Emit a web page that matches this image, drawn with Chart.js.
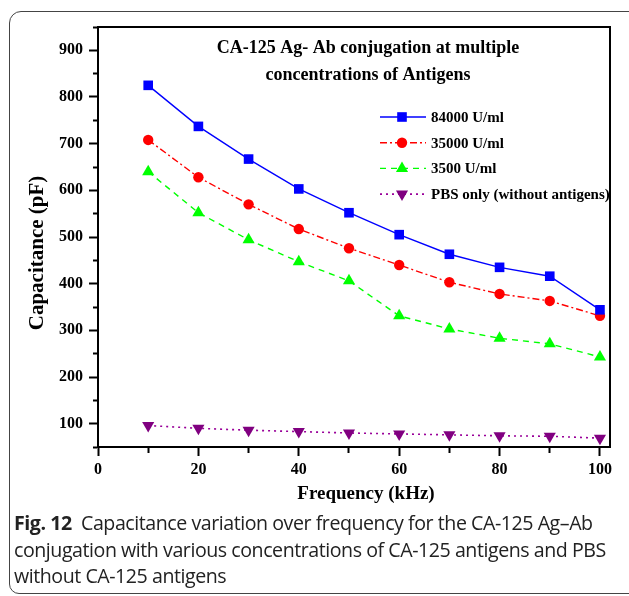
<!DOCTYPE html>
<html>
<head>
<meta charset="utf-8">
<script src="https://cdn.jsdelivr.net/npm/chart.js@4.4.1/dist/chart.umd.min.js"></script>
<style>
  html, body { margin: 0; padding: 0; background: #fff; overflow: hidden; }
  #page { position: relative; width: 629px; height: 596px; }
  #frame {
    position: absolute; left: 9px; top: 11px; width: 660px; height: 583px;
    border: 1.3px solid #444; border-radius: 12px 0 0 10px; box-sizing: border-box;
  }
  #chart { position: absolute; left: 0; top: 0; }
  #caption {
    position: absolute; left: 14px; top: 510px; width: 620px; white-space: nowrap;
    font-family: "Open Sans", "Noto Sans", sans-serif; font-size: 19.6px;
    line-height: 26.5px; color: #222; letter-spacing: -0.45px;
  }
  #caption b { font-weight: 700; }
</style>
</head>
<body>
<div id="page">
  <div id="frame"></div>
  <canvas id="chart" width="629" height="510"></canvas>
  <div id="caption"><b>Fig. 12</b>&nbsp; Capacitance variation over frequency for the CA-125 Ag–Ab<br>conjugation with various concentrations of CA-125 antigens and PBS<br>without CA-125 antigens</div>
</div>
<script>
// --- DADOS ---
const freq = [10, 20, 30, 40, 50, 60, 70, 80, 90, 100];
const cap84000 = [825, 737, 667, 603, 552, 505, 463, 435, 416, 344];
const cap35000 = [708, 628, 570, 517, 476, 440, 403, 378, 363, 331];
const cap3500 = [640, 552, 494, 447, 406, 331, 303, 283, 271, 243];
const capPBS = [96, 90, 86, 83, 80, 78, 76, 74, 73, 69];

const seriesLabels = ['84000 U/ml', '35000 U/ml', '3500 U/ml', 'PBS only (without antigens)'];
const titleLines = ['CA-125 Ag- Ab conjugation at multiple', 'concentrations of Antigens'];
const xTitle = 'Frequency (kHz)';
const yTitle = 'Capacitance (pF)';

const SERIF = '"Liberation Serif", "Times New Roman", serif';

function toPoints(ys) {
    return freq.map((x, i) => ({ x: x, y: ys[i] }));
}

const datasets = [
    { label: seriesLabels[0], data: toPoints(cap84000), borderColor: '#0000ff', backgroundColor: '#0000ff',
      borderWidth: 1.4, borderDash: [], pointStyle: 'rect', pointRadius: 6.8, pointRotation: 0 },
    { label: seriesLabels[1], data: toPoints(cap35000), borderColor: '#ff0000', backgroundColor: '#ff0000',
      borderWidth: 1.4, borderDash: [7, 3, 2, 3], pointStyle: 'circle', pointRadius: 5.2, pointRotation: 0 },
    { label: seriesLabels[2], data: toPoints(cap3500), borderColor: '#00ff00', backgroundColor: '#00ff00',
      borderWidth: 1.4, borderDash: [6, 5], pointStyle: 'triangle', pointRadius: 7, pointRotation: 0 },
    { label: seriesLabels[3], data: toPoints(capPBS), borderColor: '#990099', backgroundColor: '#800080',
      borderWidth: 1.6, borderDash: [2, 4], pointStyle: 'triangle', pointRadius: 7, pointRotation: 180 }
];
datasets.forEach(d => { d.pointBorderWidth = 0; d.fill = false; d.tension = 0; d.pointHoverRadius = d.pointRadius; });

// moldura + título + legenda + títulos dos eixos
const decor = {
    id: 'decor',
    beforeDatasetsDraw(chart) {
        const { ctx, chartArea: a } = chart;
        ctx.save();
        ctx.strokeStyle = '#000';
        ctx.lineWidth = 2;
        ctx.strokeRect(a.left, a.top, a.right - a.left, a.bottom - a.top);
        ctx.restore();
    },
    afterDraw(chart) {
        const ctx = chart.ctx;
        ctx.save();
        ctx.fillStyle = '#000';
        ctx.textAlign = 'center';
        ctx.textBaseline = 'middle';
        ctx.font = 'bold 18px ' + SERIF;
        titleLines.forEach((t, i) => ctx.fillText(t, 368, 48 + i * 27));

        // títulos dos eixos
        ctx.font = 'bold 19px ' + SERIF;
        ctx.fillText(xTitle, 366, 494);
        ctx.save();
        ctx.translate(38, 253);
        ctx.rotate(-Math.PI / 2);
        ctx.font = 'bold 21px ' + SERIF;
        ctx.fillText(yTitle, 0, 0);
        ctx.restore();

        // legenda
        ctx.font = 'bold 15px ' + SERIF;
        ctx.textAlign = 'left';
        chart.data.datasets.forEach((d, i) => {
            const y = 117 + i * 25.7;
            ctx.save();
            ctx.strokeStyle = d.borderColor;
            ctx.lineWidth = d.borderWidth;
            ctx.setLineDash(d.borderDash);
            ctx.beginPath();
            ctx.moveTo(380, y);
            ctx.lineTo(426, y);
            ctx.stroke();
            ctx.setLineDash([]);
            ctx.fillStyle = d.backgroundColor;
            ctx.strokeStyle = d.backgroundColor;
            Chart.helpers.drawPoint(ctx, { pointStyle: d.pointStyle, rotation: d.pointRotation, radius: d.pointRadius, borderWidth: 0 }, 402, y);
            ctx.restore();
            ctx.fillText(d.label, 431, y + 1);
        });
        ctx.restore();
    }
};

new Chart(document.getElementById('chart'), {
    type: 'line',
    data: { datasets: datasets },
    plugins: [decor],
    options: {
        responsive: false,
        animation: false,
        events: [],
        layout: { autoPadding: false, padding: { top: 27, right: 19, left: 0, bottom: 0 } },
        plugins: { legend: { display: false }, title: { display: false }, tooltip: { enabled: false } },
        scales: {
            x: {
                type: 'linear', min: 0, max: 102,
                afterFit: s => { s.height = 63; },
                afterBuildTicks: s => { s.ticks = freq.map(v => ({ value: v })); s.ticks.unshift({ value: 0 }); },
                grid: {
                    drawOnChartArea: false, tickLength: 9, tickWidth: 2, tickColor: '#000',
                    tickBorderDash: c => (c.tick && c.tick.value % 20 === 0) ? [] : [5, 20]
                },
                border: { display: true, color: '#000', width: 2 },
                ticks: {
                    color: '#000', padding: 4,
                    font: { family: SERIF, size: 16, weight: 'bold' },
                    callback: v => (v % 20 === 0 ? v : '')
                }
            },
            y: {
                type: 'linear', min: 50, max: 950,
                afterFit: s => { s.width = 98; },
                ticks: {
                    stepSize: 50, color: '#000', padding: 6,
                    font: { family: SERIF, size: 16, weight: 'bold' },
                    callback: v => (v % 100 === 0 ? v : '')
                },
                grid: {
                    drawOnChartArea: false, tickLength: 9, tickWidth: 2, tickColor: '#000',
                    tickBorderDash: c => (c.tick && c.tick.value % 100 === 0) ? [] : [0, 4, 20]
                },
                border: { display: true, color: '#000', width: 2 }
            }
        }
    }
});
</script>
</body>
</html>
